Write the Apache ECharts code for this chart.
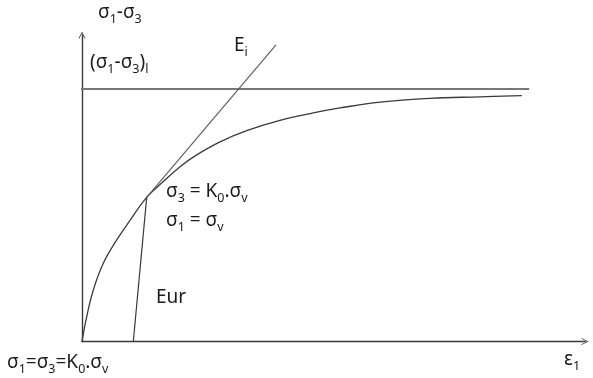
<!DOCTYPE html>
<html>
<head>
<meta charset="utf-8">
<script src="https://cdn.jsdelivr.net/npm/echarts@6/dist/echarts.min.js"></script>
<style>
  html, body { margin: 0; padding: 0; background: #fff; }
  #chart { width: 593px; height: 378px; }
</style>
</head>
<body>
<div id="chart"></div>
<script>
// Hyperbolic stress–strain curve (deviator stress vs axial strain)
const curveStrain = [0, 0.93, 2.23, 4.2, 6.84, 9.47, 12.76, 16.04, 19.33, 22.62, 27.22, 32.49, 39.05, 45.62, 50.89, 58.78, 68.64, 78.5, 86.73];
const curveStress = [0, 8.0, 16.6, 25.2, 32.7, 39.0, 46.4, 51.5, 56.3, 60.1, 64.3, 67.9, 71.2, 73.6, 75.2, 77.1, 78.3, 78.8, 79.2];

// Ultimate deviator stress (σ1-σ3)l asymptote
const asymptoteStrain = [-1.4, 88.2];
const asymptoteStress = [81.3, 81.3];

// Initial tangent modulus Ei
const eiStrain = [12.76, 38.26];
const eiStress = [46.4, 95.5];

// Unload/reload modulus Eur
const eurStrain = [12.76, 10.12];
const eurStress = [46.4, 0];

const pairs = (xs, ys) => xs.map((x, i) => [x, ys[i]]);

const FONT = '"Noto Sans", "Open Sans", sans-serif';
const TXT = '#1a1a1a';
const rich = {
  m: { fontFamily: FONT, fontSize: 19, color: TXT, lineHeight: 24, verticalAlign: 'bottom' },
  s: { fontFamily: FONT, fontSize: 12.5, color: TXT, lineHeight: 24, verticalAlign: 'bottom', padding: [0, 0, -4, 0] }
};
const label = (x, y, text) => ({
  type: 'text', left: x, top: y, silent: true,
  style: { text: text, rich: rich, font: '19px ' + FONT, fill: TXT }
});

const chevron = 'path://M0,10 L5,0 L10,10 L8.8,10 L5,2.4 L1.2,10 Z';
const axisLine = {
  show: true,
  onZero: true,
  symbol: ['none', chevron],
  symbolSize: [7, 7],
  symbolOffset: [0, 0],
  lineStyle: { color: '#3a3a3a', width: 1.4 }
};

const chart = echarts.init(document.getElementById('chart'), null, { renderer: 'canvas' });
chart.setOption({
  animation: false,
  backgroundColor: '#ffffff',
  grid: { left: 82, right: 8, top: 35, bottom: 36.5 },
  xAxis: {
    type: 'value', min: 0, max: 99.2,
    axisLine: axisLine,
    axisTick: { show: false }, axisLabel: { show: false }, splitLine: { show: false }
  },
  yAxis: {
    type: 'value', min: 0, max: 98.7,
    axisLine: axisLine,
    axisTick: { show: false }, axisLabel: { show: false }, splitLine: { show: false }
  },
  series: [
    {
      type: 'line', data: pairs(asymptoteStrain, asymptoteStress), clip: false,
      symbol: 'none', lineStyle: { color: '#787878', width: 2 }
    },
    {
      type: 'line', data: pairs(curveStrain, curveStress), smooth: 0.4,
      symbol: 'none', lineStyle: { color: '#3a3a3a', width: 1.3 }
    },
    {
      type: 'line', data: pairs(eiStrain, eiStress), clip: false,
      symbol: 'none', lineStyle: { color: '#5a5a5a', width: 1.1 }
    },
    {
      type: 'line', data: pairs(eurStrain, eurStress),
      symbol: 'none', lineStyle: { color: '#3a3a3a', width: 1.2 }
    }
  ],
  graphic: [
    label(98, 3, '{m|σ}{s|1}{m|-σ}{s|3}'),
    label(90, 53, '{m|(σ}{s|1}{m|-σ}{s|3}{m|)}{s|l}'),
    label(234, 36, '{m|E}{s|i}'),
    label(166, 182, '{m|σ}{s|3}{m| = K}{s|0}{m|.σ}{s|v}'),
    label(166, 211, '{m|σ}{s|1}{m| = σ}{s|v}'),
    label(156, 288, '{m|Eur}'),
    label(7, 353, '{m|σ}{s|1}{m|=σ}{s|3}{m|=K}{s|0}{m|.σ}{s|v}'),
    label(564, 350, '{m|ε}{s|1}')
  ]
});
</script>
</body>
</html>
